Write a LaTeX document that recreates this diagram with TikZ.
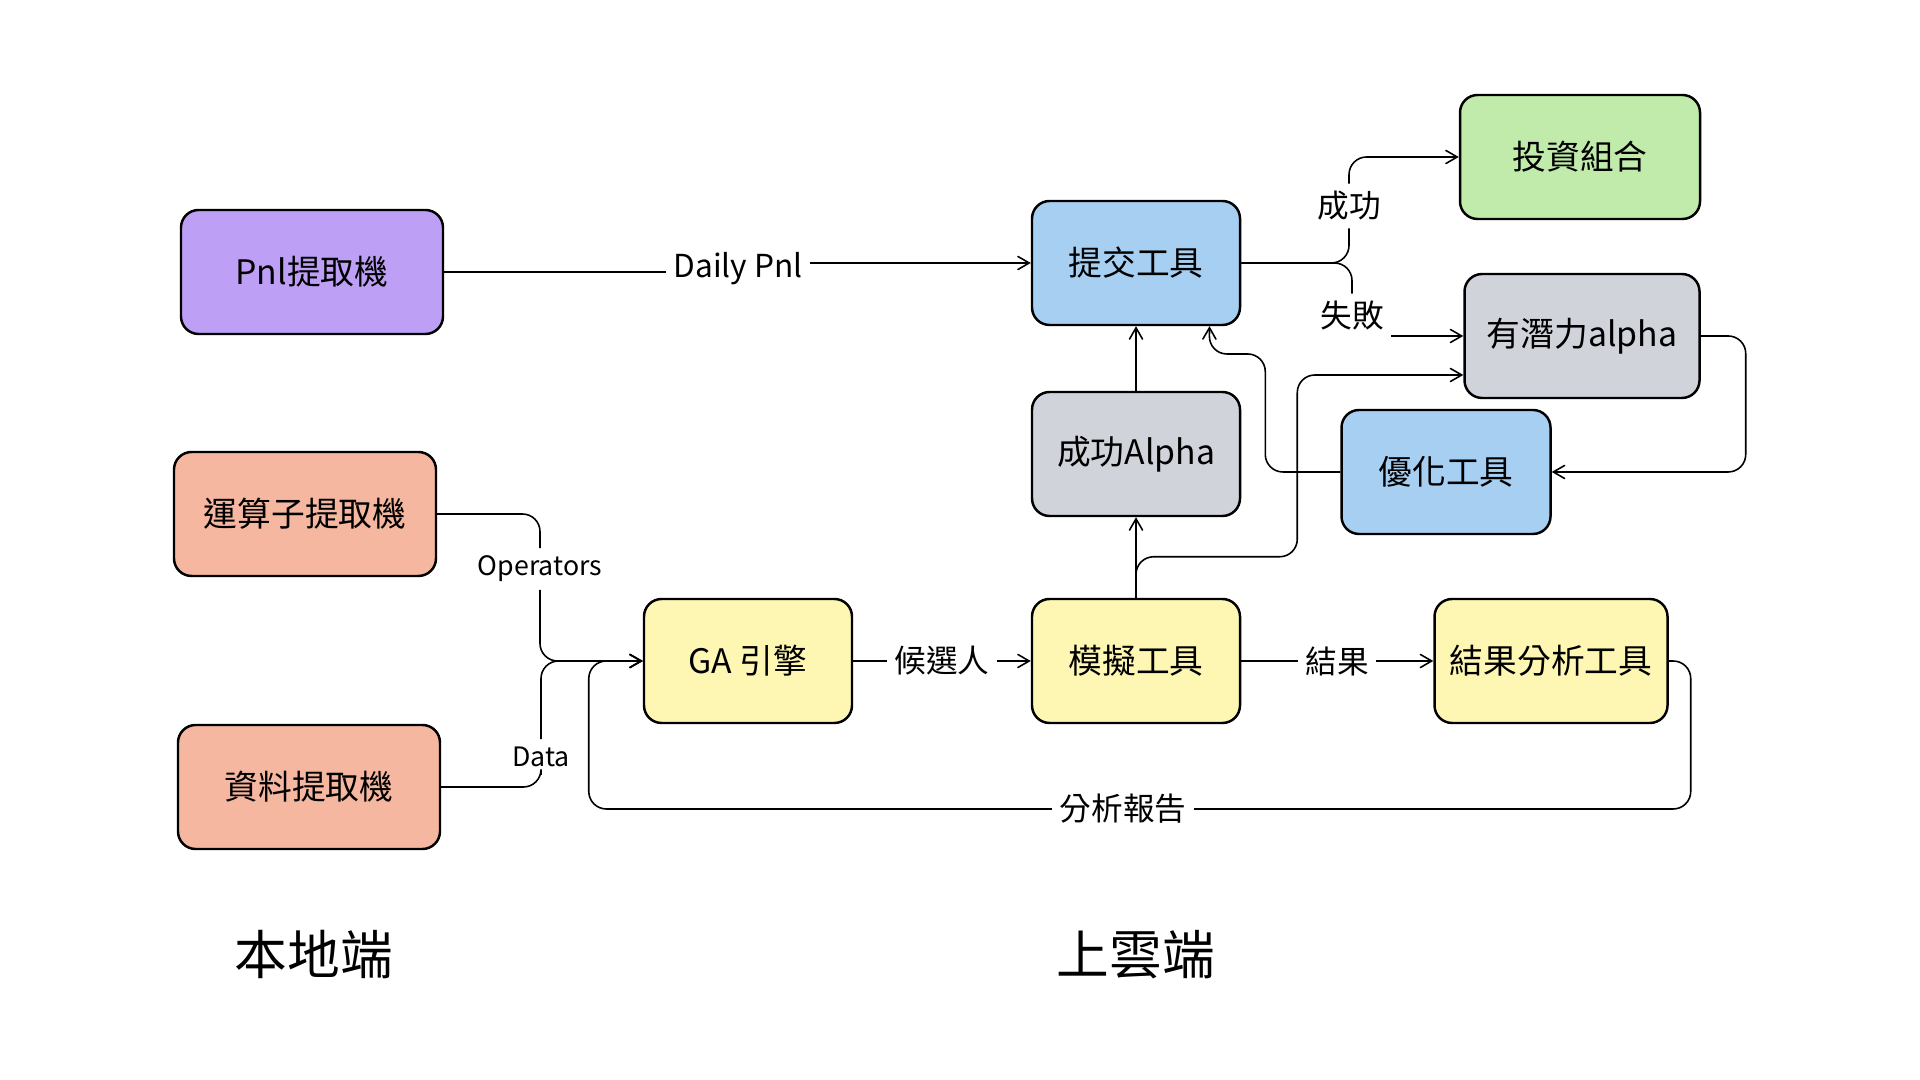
\documentclass[tikz,border=0pt]{standalone}
\usepackage{fontspec}
\setmainfont{Noto Sans CJK TC}
\usetikzlibrary{arrows}

\definecolor{pnlcol}{HTML}{BDA0F5}
\definecolor{localcol}{HTML}{F5B7A0}
\definecolor{gacol}{HTML}{FDF7B3}
\definecolor{toolcol}{HTML}{A6CFF2}
\definecolor{alphacol}{HTML}{D0D3DA}
\definecolor{portcol}{HTML}{C0EBAA}

\tikzset{
  box/.style={draw, line width=0.7pt, rounded corners=5pt, minimum height=1.24cm, inner sep=0pt, font=\fontsize{9.6}{11}\selectfont},
  lab/.style={inner sep=2pt, font=\fontsize{9}{11}\selectfont},
  smalllab/.style={inner sep=2pt, font=\fontsize{7.6}{9}\selectfont},
  side/.style={font=\fontsize{15}{17}\selectfont}
}

\begin{document}
\begin{tikzpicture}[->,>=angle 60,line width=0.45pt]
\useasboundingbox (0,0) rectangle (19.2,10.8);
%local side
  \node[box, fill=pnlcol, minimum width=2.62cm] (pnl) at (3.12,8.08) {Pnl提取機};
  \node[box, fill=localcol, minimum width=2.62cm] (opx) at (3.05,5.66) {運算子提取機};
  \node[box, fill=localcol, minimum width=2.62cm] (datax) at (3.09,2.93) {資料提取機};
%cloud side
  \node[box, fill=gacol, minimum width=2.08cm] (ga) at (7.48,4.19) {GA 引擎};
  \node[box, fill=gacol, minimum width=2.08cm] (sim) at (11.36,4.19) {模擬工具};
  \node[box, fill=gacol, minimum width=2.33cm] (ana) at (15.51,4.19) {結果分析工具};
  \node[box, fill=alphacol, minimum width=2.08cm] (succ) at (11.36,6.26) {成功Alpha};
  \node[box, fill=toolcol, minimum width=2.08cm] (submit) at (11.36,8.17) {提交工具};
  \node[box, fill=portcol, minimum width=2.40cm] (port) at (15.80,9.23) {投資組合};
  \node[box, fill=alphacol, minimum width=2.35cm] (pot) at (15.82,7.44) {有潛力alpha};
  \node[box, fill=toolcol, minimum width=2.09cm] (opt) at (14.46,6.08) {優化工具};
%connector labels
  \node[lab] (dpnl) at (7.38,8.11) {Daily Pnl};
  \node[smalllab] (oplab) at (5.40,5.11) {Operators};
  \node[smalllab] (datalab) at (5.41,3.23) {Data};
  \node[lab] (cand) at (9.42,4.19) {候選人};
  \node[lab] (res) at (13.37,4.19) {結果};
  \node[lab] (rep) at (11.23,2.71) {分析報告};
  \node[lab] (oklab) at (13.49,8.74) {成功};
  \node[lab] (faillab) at (13.52,7.64) {失敗};
%side titles
  \node[side] (local) at (3.14,1.25) {本地端};
  \node[side] (cloud) at (11.36,1.25) {上雲端};

  \draw[-] (pnl.east) -- (pnl.east -| dpnl.west);
  \draw (dpnl.east |- submit.west) -- (submit.west);
  \draw[-, rounded corners=5pt] (opx.east) -| (oplab.north);
  \draw[rounded corners=5pt] (oplab.south) |- (ga.west);
  \draw[-, rounded corners=5pt] (datax.east) -| (datalab.south);
  \draw[rounded corners=5pt] (datalab.north) |- (ga.west);
  \draw[-] (ga.east) -- (cand.west);
  \draw (cand.east) -- (sim.west);
  \draw[-] (sim.east) -- (res.west);
  \draw (res.east) -- (ana.west);
  %report loop
  \draw[-, rounded corners=5pt] (ana.east) -- ++(0.22,0) |- (rep.east);
  \draw[rounded corners=5pt] (rep.west) -| ([xshift=-0.54cm]ga.west) -- (ga.west);
  \draw (sim.north) -- (succ.south);
  \draw (succ.north) -- (submit.south);
  \draw[rounded corners=5pt] (sim.north) -- ++(0,0.41) -| ([xshift=-1.66cm,yshift=-0.39cm]pot.west) -- ([yshift=-0.39cm]pot.west);
  \draw[rounded corners=5pt] (opt.west) -- ++(-0.75,0) |- ++(-0.56,1.18) -- ([xshift=0.735cm]submit.south);
  \draw[rounded corners=5pt] (pot.east) -- ++(0.45,0) |- (opt.east);
  %branch success / fail
  \draw[-, rounded corners=5pt] (submit.east) -| (oklab.south);
  \draw[rounded corners=5pt] (oklab.north) |- (port.west);
  \draw[-, rounded corners=5pt] (submit.east) -| (faillab.north);
  \draw (faillab.east |- pot.west) -- (pot.west);
\end{tikzpicture}
\end{document}
